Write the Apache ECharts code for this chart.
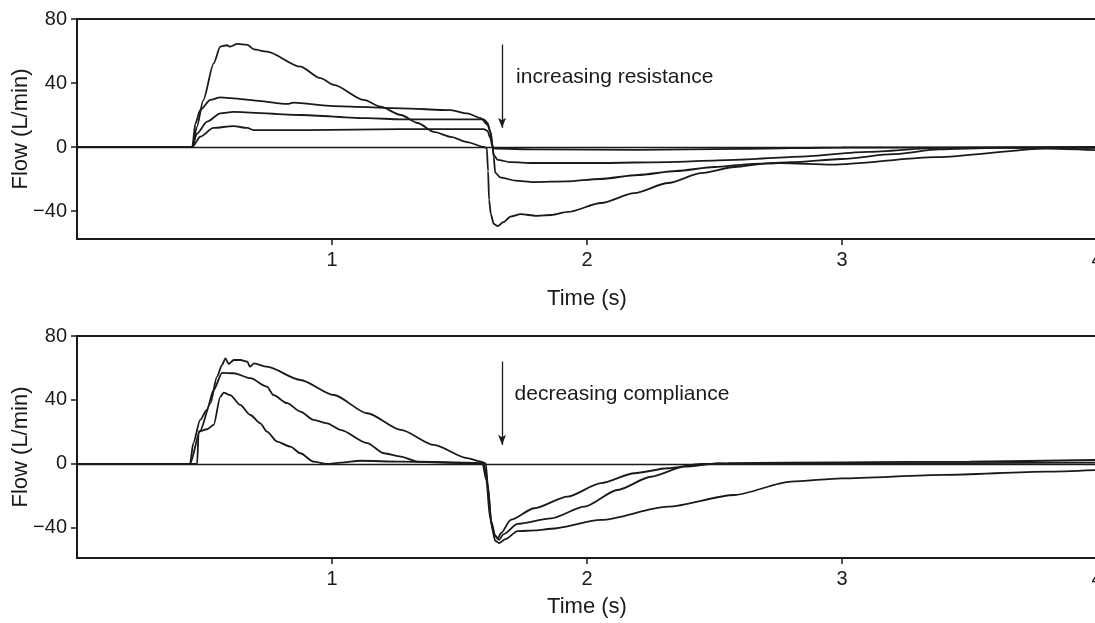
<!DOCTYPE html>
<html>
<head>
<meta charset="utf-8">
<script src="https://cdn.jsdelivr.net/npm/echarts@6/dist/echarts.min.js"></script>
<style>
  html, body { margin: 0; padding: 0; background: #fff; }
  #chart { width: 1095px; height: 623px; }
</style>
</head>
<body>
<div id="chart"></div>
<script>
// flow curves, [time (s), flow (L/min)]
// top panel: increasing resistance (A lowest ... D highest)
let resA = [[0,0],[0.452,0],[0.47,12.5],[0.495,29.2],[0.536,52.3],[0.562,62.7],[0.588,63.6],[0.601,62.7],[0.628,64.4],[0.668,63.8],[0.694,61],[0.745,59.6],[0.876,50.2],[0.955,43],[1.007,38.8],[1.125,29.4],[1.19,25.2],[1.27,20],[1.336,15],[1.4,9.4],[1.466,6.3],[1.53,3.1],[1.595,0],[1.607,-0.6],[1.612,-15],[1.616,-33],[1.623,-42],[1.634,-48],[1.65,-49.5],[1.672,-47],[1.7,-43.5],[1.74,-42],[1.8,-43],[1.86,-42.5],[1.925,-40.6],[2.055,-35],[2.185,-28.8],[2.318,-22.5],[2.448,-16.3],[2.578,-12.5],[2.71,-10.2],[2.8,-9.5],[3.0,-7.5],[3.2,-4.5],[3.38,-1.5],[3.6,-0.5],[4.0,-0.5]];
let resB = [[0,0],[0.452,0],[0.464,14.6],[0.483,23],[0.523,29.4],[0.562,31],[0.613,30.4],[0.7,29],[0.825,26.9],[0.849,27.7],[1.006,25.6],[1.27,24.2],[1.466,23],[1.53,21],[1.584,18],[1.61,13.8],[1.623,8.8],[1.63,0],[1.634,-6],[1.64,-16],[1.66,-19],[1.72,-21],[1.79,-21.9],[1.92,-21.5],[2.05,-20],[2.2,-17.5],[2.35,-15],[2.5,-12.5],[2.65,-10.5],[2.76,-10],[2.96,-11],[3.37,-6.3],[3.8,-1],[4.0,-2]];
let resC = [[0,0],[0.452,0],[0.47,8.3],[0.51,15.8],[0.562,21],[0.613,22],[0.876,20],[1.14,18],[1.27,17.3],[1.595,17.3],[1.61,15],[1.62,10],[1.628,2],[1.634,-5],[1.65,-8],[1.7,-9.5],[1.79,-10],[2.05,-10],[2.32,-9.4],[2.58,-8],[2.84,-6],[3.1,-3],[3.38,-0.5],[4.0,-0.3]];
let resD = [[0,0],[0.452,0],[0.483,6.4],[0.535,11.9],[0.613,13.1],[0.668,11.9],[0.692,10.6],[0.9,10.6],[1.27,11.2],[1.595,11.2],[1.61,10],[1.62,6],[1.63,0],[1.64,-1],[1.8,-1.5],[2.2,-1.8],[2.6,-1.2],[3.0,-0.3],[4.0,0]];

// bottom panel: decreasing compliance (E highest ... G lowest)
let compE = [[0,0],[0.443,0],[0.483,20.8],[0.523,37.9],[0.549,54.6],[0.569,61.9],[0.582,66],[0.595,62.5],[0.615,65],[0.641,65],[0.668,64],[0.678,60.8],[0.694,62.9],[0.745,60.8],[0.876,52.5],[1.007,43.1],[1.138,31.7],[1.27,21.3],[1.4,11.9],[1.53,3.6],[1.584,1.4],[1.603,0.4],[1.612,-15],[1.625,-38],[1.64,-48],[1.655,-49.5],[1.68,-47],[1.728,-42],[1.8,-41.5],[1.859,-40.5],[2.055,-35],[2.317,-26.7],[2.578,-19.4],[2.8,-11],[3.0,-9],[3.4,-6.8],[3.8,-4.8],[4.0,-3.8]];
let compF = [[0,0],[0.443,0],[0.456,13],[0.483,27.5],[0.509,33.8],[0.536,46.3],[0.569,57],[0.615,56.7],[0.68,53.6],[0.745,48.3],[0.771,43],[0.824,38],[0.876,32.7],[0.928,27.5],[0.981,25.4],[1.033,21.3],[1.138,13],[1.204,6.7],[1.27,4.6],[1.336,1.4],[1.53,0.8],[1.595,0.4],[1.61,-12],[1.625,-36],[1.64,-45],[1.655,-47.5],[1.672,-44],[1.728,-37.5],[1.859,-34],[1.99,-26.7],[2.12,-16.3],[2.25,-8],[2.383,-1.7],[2.513,0.4],[2.6,0],[3.0,0.3],[4.0,0.8]];
let compG = [[0,0],[0.471,0],[0.477,20.2],[0.51,21.7],[0.536,24.4],[0.562,42],[0.575,44.6],[0.601,43],[0.64,36.9],[0.68,30.6],[0.719,25.4],[0.745,20.2],[0.785,14],[0.837,10.8],[0.876,6.7],[0.928,1.4],[0.981,0],[1.034,0.8],[1.112,2],[1.27,1.4],[1.59,0.4],[1.605,-10],[1.62,-34],[1.635,-44],[1.65,-46.5],[1.662,-43.3],[1.701,-35],[1.793,-27.7],[1.924,-20.4],[2.055,-12],[2.186,-5.8],[2.317,-2.7],[2.448,0],[2.553,0.5],[3.0,1],[3.5,1.5],[4.0,2.5]];

let timeTicks = [1, 2, 3, 4];
let flowTicks = [-40, 0, 40, 80];
let notes = ["increasing resistance", "decreasing compliance"];
let arrowX = 1.667;
let arrowY = [64, 12];
let noteAt = [[1.722, 43.4], [1.716, 43.8]];

let ink = "#1a1a1a";
let font = "'Liberation Sans', Arial, sans-serif";

function xAx(idx, gap) {
  return {
    type: "value", gridIndex: idx, min: 0, max: 4,
    name: "Time (s)", nameLocation: "middle", nameGap: gap, nameMoveOverlap: false,
    nameTextStyle: { color: ink, fontSize: 22, fontFamily: font },
    axisLine: { show: true, onZero: false, lineStyle: { color: ink, width: 2 } },
    axisTick: { show: true, length: 6, customValues: timeTicks, lineStyle: { color: ink, width: 1.5 } },
    axisLabel: { customValues: timeTicks, color: ink, fontSize: 20, fontFamily: font, margin: 11 },
    splitLine: { show: false }
  };
}

function yAx(idx, min) {
  return {
    type: "value", gridIndex: idx, min: min, max: 80,
    name: "Flow (L/min)", nameLocation: "middle", nameGap: 45, nameMoveOverlap: false,
    nameTextStyle: { color: ink, fontSize: 22, fontFamily: font },
    axisLine: { show: true, onZero: false, lineStyle: { color: ink, width: 2 } },
    axisTick: { show: true, length: 6, customValues: flowTicks, lineStyle: { color: ink, width: 1.5 } },
    axisLabel: {
      customValues: flowTicks, color: ink, fontSize: 20, fontFamily: font, margin: 10,
      formatter: v => String(v).replace("-", "\u2212")
    },
    splitLine: { show: false }
  };
}

function curve(data, idx) {
  return {
    type: "line", data: data, xAxisIndex: idx, yAxisIndex: idx,
    showSymbol: false, symbol: "none", smooth: 0.25, smoothMonotone: "x",
    lineStyle: { color: ink, width: 1.8 }, silent: true
  };
}

// the first curve of each panel also carries the zero line, arrow and note
function withMarks(s, k) {
  s.markLine = {
    silent: true, symbol: "none", label: { show: false },
    lineStyle: { color: ink, width: 1.3, type: "solid" },
    data: [
      { yAxis: 0 },
      [
        { coord: [arrowX, arrowY[0]], symbol: "none" },
        { coord: [arrowX, arrowY[1]], symbol: "arrow", symbolSize: [6, 10] }
      ]
    ]
  };
  s.markPoint = {
    silent: true, symbol: "circle", symbolSize: 0,
    data: [{ coord: noteAt[k] }],
    label: {
      show: true, position: "right", distance: 0, formatter: notes[k],
      color: ink, fontSize: 21, fontFamily: font
    }
  };
  return s;
}

let chart = echarts.init(document.getElementById("chart"), null, { renderer: "canvas" });
chart.setOption({
  animation: false,
  backgroundColor: "#fff",
  grid: [
    { left: 77, top: 19, width: 1020, height: 220, show: true, borderColor: ink, borderWidth: 2, outerBoundsMode: "none" },
    { left: 77, top: 336, width: 1020, height: 222, show: true, borderColor: ink, borderWidth: 2, outerBoundsMode: "none" }
  ],
  xAxis: [xAx(0, 49), xAx(1, 38)],
  yAxis: [yAx(0, -57.5), yAx(1, -58.8)],
  series: [
    withMarks(curve(resA, 0), 0),
    curve(resB, 0),
    curve(resC, 0),
    curve(resD, 0),
    withMarks(curve(compE, 1), 1),
    curve(compF, 1),
    curve(compG, 1)
  ]
});
</script>
</body>
</html>
